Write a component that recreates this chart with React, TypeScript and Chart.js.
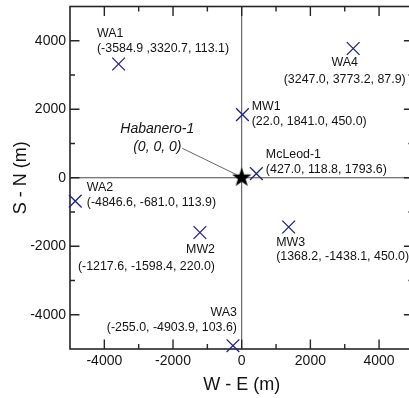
import React, { useEffect, useRef } from 'react';
import { Chart, registerables } from 'chart.js';

Chart.register(...registerables);

// ---- data ----
const WELL_NAMES = ['WA1', 'WA2', 'WA3', 'WA4', 'MW1', 'MW2', 'MW3', 'McLeod-1'];
const WELL_X = [-3584.9, -4846.6, -255.0, 3247.0, 22.0, -1217.6, 1368.2, 427.0];
const WELL_Y = [3320.7, -681.0, -4903.9, 3773.2, 1841.0, -1598.4, -1438.1, 118.8];
const WELL_COORDS = [
  '(-3584.9 ,3320.7, 113.1)',
  '(-4846.6, -681.0, 113.9)',
  '(-255.0, -4903.9, 103.6)',
  '(3247.0, 3773.2, 87.9)',
  '(22.0, 1841.0, 450.0)',
  '(-1217.6, -1598.4, 220.0)',
  '(1368.2, -1438.1, 450.0)',
  '(427.0, 118.8, 1793.6)',
];
const MAIN_NAME = 'Habanero-1';
const MAIN_X = [0];
const MAIN_Y = [0];
const MAIN_COORDS = '(0, 0, 0)';
const X_TICKS = [-4000, -2000, 0, 2000, 4000];
const Y_TICKS = [-4000, -2000, 0, 2000, 4000];
const MINOR_TICKS = [-3000, -1000, 1000, 3000];
const AXIS_MIN = -5000;
const AXIS_MAX = 5000;

// ---- label layout (pixel offsets relative to each point; style only) ----
type LabelStyle = { align: CanvasTextAlign; dx: number; nameDy: number; coordDy: number };
const LABEL_STYLE: LabelStyle[] = [
  { align: 'left', dx: -21.6, nameDy: -30.2, coordDy: -15.2 }, // WA1
  { align: 'left', dx: 11.5, nameDy: -13, coordDy: 1.5 }, // WA2
  { align: 'right', dx: 4, nameDy: -33.4, coordDy: -18.4 }, // WA3
  { align: 'center', dx: -8.5, nameDy: 13.8, coordDy: 31.1 }, // WA4
  { align: 'left', dx: 9.2, nameDy: -7.7, coordDy: 6.6 }, // MW1
  { align: 'right', dx: 15.1, nameDy: 17.3, coordDy: 34 }, // MW2
  { align: 'left', dx: -12.5, nameDy: 15.3, coordDy: 29.8 }, // MW3
  { align: 'left', dx: 9.5, nameDy: -19, coordDy: -4.4 }, // McLeod-1
];
const MAIN_STYLE = { dx: -84.4, nameDy: -48.2, coordDy: -30.2, lineFrom: [-59.5, -29.5], lineTo: [-5, -3] };

const FONT = '"Liberation Sans", Arial, Helvetica, sans-serif';
const TEXT_COLOR = '#141414';
const MARK_COLOR = '#20208c';
const FRAME_COLOR = '#262626';

function makeStar(): HTMLCanvasElement {
  const c = document.createElement('canvas');
  c.width = 24;
  c.height = 24;
  const g = c.getContext('2d')!;
  const R = 10.2;
  const r = R * 0.4;
  g.beginPath();
  for (let i = 0; i < 10; i++) {
    const rad = i % 2 === 0 ? R : r;
    const a = -Math.PI / 2 + (i * Math.PI) / 5;
    const px = 12 + rad * Math.cos(a);
    const py = 12 + rad * Math.sin(a);
    if (i === 0) g.moveTo(px, py);
    else g.lineTo(px, py);
  }
  g.closePath();
  g.fillStyle = '#000';
  g.fill();
  return c;
}

const framePlugin = {
  id: 'frameTicks',
  beforeDatasetsDraw(chart: any) {
    const { ctx, chartArea: a, scales } = chart;
    const xs = scales.x;
    const ys = scales.y;
    ctx.save();
    // zero lines
    ctx.strokeStyle = '#4a4a4a';
    ctx.lineWidth = 1;
    const x0 = xs.getPixelForValue(0);
    const y0 = ys.getPixelForValue(0);
    ctx.beginPath();
    ctx.moveTo(x0, a.top);
    ctx.lineTo(x0, a.bottom);
    ctx.moveTo(a.left, y0);
    ctx.lineTo(a.right, y0);
    ctx.stroke();
    // frame
    ctx.strokeStyle = FRAME_COLOR;
    ctx.lineWidth = 1.6;
    ctx.strokeRect(a.left, a.top, a.right - a.left, a.bottom - a.top);
    // inward ticks
    const drawX = (v: number, len: number) => {
      const p = xs.getPixelForValue(v);
      ctx.moveTo(p, a.bottom);
      ctx.lineTo(p, a.bottom - len);
      ctx.moveTo(p, a.top);
      ctx.lineTo(p, a.top + len);
    };
    const drawY = (v: number, len: number) => {
      const p = ys.getPixelForValue(v);
      ctx.moveTo(a.left, p);
      ctx.lineTo(a.left + len, p);
      ctx.moveTo(a.right, p);
      ctx.lineTo(a.right - len, p);
    };
    ctx.lineWidth = 1.4;
    ctx.beginPath();
    X_TICKS.forEach((v) => drawX(v, 9.5));
    Y_TICKS.forEach((v) => drawY(v, 9.5));
    MINOR_TICKS.forEach((v) => drawX(v, 5));
    MINOR_TICKS.forEach((v) => drawY(v, 5));
    ctx.stroke();
    ctx.restore();
  },
  afterDatasetsDraw(chart: any) {
    const { ctx, scales } = chart;
    const xs = scales.x;
    const ys = scales.y;
    ctx.save();
    ctx.fillStyle = TEXT_COLOR;
    ctx.textBaseline = 'middle';
    ctx.font = `12.4px ${FONT}`;
    WELL_NAMES.forEach((name, i) => {
      const st = LABEL_STYLE[i];
      const px = xs.getPixelForValue(WELL_X[i]);
      const py = ys.getPixelForValue(WELL_Y[i]);
      ctx.textAlign = st.align;
      ctx.fillText(name, px + st.dx, py + st.nameDy);
      ctx.fillText(WELL_COORDS[i], px + st.dx, py + st.coordDy);
    });
    // main well label
    const mx = xs.getPixelForValue(MAIN_X[0]);
    const my = ys.getPixelForValue(MAIN_Y[0]);
    ctx.font = `italic 14px ${FONT}`;
    ctx.textAlign = 'center';
    ctx.fillText(MAIN_NAME, mx + MAIN_STYLE.dx, my + MAIN_STYLE.nameDy);
    ctx.fillText(MAIN_COORDS, mx + MAIN_STYLE.dx, my + MAIN_STYLE.coordDy);
    ctx.strokeStyle = '#555';
    ctx.lineWidth = 0.9;
    ctx.beginPath();
    ctx.moveTo(mx + MAIN_STYLE.lineFrom[0], my + MAIN_STYLE.lineFrom[1]);
    ctx.lineTo(mx + MAIN_STYLE.lineTo[0], my + MAIN_STYLE.lineTo[1]);
    ctx.stroke();
    ctx.restore();
  },
};

export default function App() {
  const ref = useRef<HTMLCanvasElement | null>(null);
  useEffect(() => {
    if (!ref.current) return;
    const star = makeStar();
    const tickFont = { family: FONT, size: 14 };
    const titleFont = { family: FONT, size: 18 };
    const chart = new Chart(ref.current, {
      type: 'scatter',
      data: {
        datasets: [
          {
            label: 'wells',
            data: WELL_X.map((x, i) => ({ x, y: WELL_Y[i] })),
            pointStyle: 'crossRot',
            pointRadius: 9,
            pointHoverRadius: 9,
            borderColor: MARK_COLOR,
            backgroundColor: MARK_COLOR,
            borderWidth: 1.3,
            clip: false as any,
          },
          {
            label: MAIN_NAME,
            data: MAIN_X.map((x, i) => ({ x, y: MAIN_Y[i] })),
            pointStyle: star as any,
            pointRadius: 12,
            clip: false as any,
          },
        ],
      },
      options: {
        animation: false,
        responsive: false,
        events: [],
        layout: { autoPadding: false, padding: { left: 0, top: 6.5, right: 6.6, bottom: 0 } },
        plugins: { legend: { display: false }, tooltip: { enabled: false } },
        scales: {
          x: {
            type: 'linear',
            min: AXIS_MIN,
            max: AXIS_MAX,
            afterBuildTicks: (s: any) => {
              s.ticks = X_TICKS.map((v) => ({ value: v }));
            },
            afterFit: (s: any) => {
              s.height = 49;
              s.paddingLeft = 0;
              s.paddingRight = 0;
            },
            grid: { display: false, drawTicks: false },
            border: { display: false },
            ticks: {
              font: tickFont,
              color: TEXT_COLOR,
              padding: 4,
              maxRotation: 0,
              autoSkip: false,
              callback: (v: any) => String(v),
            },
            title: {
              display: true,
              text: 'W - E (m)',
              font: titleFont,
              color: TEXT_COLOR,
              padding: { top: 0, bottom: 2 },
            },
          },
          y: {
            type: 'linear',
            min: AXIS_MIN,
            max: AXIS_MAX,
            afterBuildTicks: (s: any) => {
              s.ticks = Y_TICKS.map((v) => ({ value: v }));
            },
            afterFit: (s: any) => {
              s.width = 70;
              s.paddingTop = 0;
              s.paddingBottom = 0;
            },
            grid: { display: false, drawTicks: false },
            border: { display: false },
            ticks: {
              font: tickFont,
              color: TEXT_COLOR,
              padding: 4,
              autoSkip: false,
              callback: (v: any) => String(v),
            },
            title: {
              display: true,
              text: 'S - N (m)',
              font: titleFont,
              color: TEXT_COLOR,
              padding: { top: 10, bottom: 0 },
            },
          },
        },
      },
      plugins: [framePlugin],
    });
    return () => chart.destroy();
  }, []);

  return (
    <div
      style={{
        position: 'absolute',
        left: 0,
        top: 0,
        width: 409,
        height: 398,
        overflow: 'hidden',
        background: '#fff',
      }}
    >
      <canvas ref={ref} width={420} height={398} style={{ display: 'block' }} />
    </div>
  );
}
